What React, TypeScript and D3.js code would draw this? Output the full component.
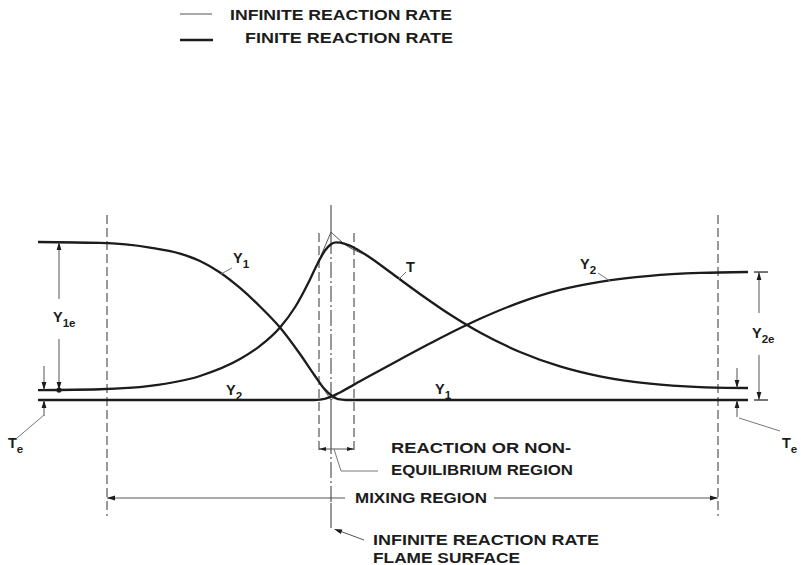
import React from "react";
import * as d3 from "d3";

// Position across the mixing layer (flame surface at 0) and normalised values
const xExtent: [number, number] = [-29.3, 41.7];
const mixingRegion: [number, number] = [-22.4, 38.7];
const reactionRegion: [number, number] = [-1.2, 2.3];
const flameSurface = 0;
const Y1e = 1.0;
const Y2e = 0.81;
const TeLeft = 0.063;
const TeRight = 0.076;

type Pt = [number, number];

// Finite reaction rate profiles
const y1Finite: Pt[] = [
  [-29.3, 1.0], [-23.1, 0.994], [-18.1, 0.965], [-15.1, 0.927], [-13.1, 0.88],
  [-11.1, 0.807], [-9.1, 0.709], [-7.1, 0.592], [-5.1, 0.459], [-3.1, 0.291],
  [-1.6, 0.152], [-0.6, 0.066], [0.1, 0.025], [0.7, 0.005], [1.5, 0], [41.7, 0],
];
const tFinite: Pt[] = [
  [-29.3, 0.063], [-23.1, 0.068], [-18.1, 0.089], [-13.1, 0.152], [-9.1, 0.259],
  [-7.1, 0.342], [-5.1, 0.459], [-3.6, 0.587], [-2.1, 0.763], [-1.3, 0.869],
  [-0.6, 0.946], [-0.1, 0.981], [0.5, 0.997], [1.4, 0.988], [2.4, 0.961],
  [3.9, 0.902], [5.9, 0.81], [8.9, 0.671], [11.9, 0.541], [14.9, 0.427],
  [18.9, 0.304], [22.9, 0.213], [26.9, 0.15], [31.9, 0.103], [36.9, 0.082], [41.7, 0.076],
];
const y2Finite: Pt[] = [
  [-29.3, 0], [-1.7, 0], [-1.1, 0.002], [-0.1, 0.018], [0.9, 0.048], [2.9, 0.118],
  [6.9, 0.257], [10.9, 0.391], [14.9, 0.514], [18.9, 0.618], [22.9, 0.697],
  [26.9, 0.748], [31.9, 0.786], [36.9, 0.804], [41.7, 0.81],
];

// Infinite reaction rate profiles: one branch each side of the flame surface
const y1InfiniteLeft: Pt[] = [
  [-29.3, 1.0], [-23.1, 0.994], [-18.1, 0.965], [-15.1, 0.927], [-13.1, 0.88],
  [-11.1, 0.807], [-9.1, 0.709], [-7.1, 0.592], [-5.1, 0.459], [-3.1, 0.291],
  [-2.1, 0.198], [0, 0],
];
const y2InfiniteRight: Pt[] = [
  [0, 0], [1.2, 0.063], [2.9, 0.118], [6.9, 0.257], [10.9, 0.391], [14.9, 0.514],
  [18.9, 0.618], [22.9, 0.697], [26.9, 0.748], [31.9, 0.786], [36.9, 0.804], [41.7, 0.81],
];
const tInfiniteLeft: Pt[] = [
  [-29.3, 0.063], [-23.1, 0.068], [-18.1, 0.089], [-13.1, 0.152], [-9.1, 0.259],
  [-7.1, 0.342], [-5.1, 0.459], [-3.6, 0.587], [-2.1, 0.763], [0, 1.063],
];
const tInfiniteRight: Pt[] = [
  [0, 1.063], [1.6, 0.975], [3.9, 0.902], [5.9, 0.81], [8.9, 0.671], [11.9, 0.541],
  [14.9, 0.427], [18.9, 0.304], [22.9, 0.213], [26.9, 0.15], [31.9, 0.103],
  [36.9, 0.082], [41.7, 0.076],
];

const legendLabels = ["INFINITE REACTION RATE", "FINITE REACTION RATE"];
const reactionLabel = ["REACTION OR NON-", "EQUILIBRIUM REGION"];
const mixingLabel = "MIXING REGION";
const flameLabel = ["INFINITE REACTION RATE", "FLAME SURFACE"];

const W = 801;
const H = 565;
const INK = "#1c1c1c";
const THIN = "#555";
const FONT = "'Liberation Sans', 'DejaVu Sans', Arial, sans-serif";

const x = d3.scaleLinear().domain(xExtent).range([38, 748]);
const y = d3.scaleLinear().domain([0, 1]).range([400, 242]);
const line = d3
  .line<Pt>()
  .x((d) => x(d[0]))
  .y((d) => y(d[1]))
  .curve(d3.curveMonotoneX);

function arrowHead(tx: number, ty: number, dx: number, dy: number, len = 8, half = 2.4) {
  const bx = tx - dx * len;
  const by = ty - dy * len;
  const px = -dy * half;
  const py = dx * half;
  return `M${tx},${ty}L${bx + px},${by + py}L${bx - px},${by - py}Z`;
}

function Label({ x: lx, y: ly, main, sub, size = 14.5 }: { x: number; y: number; main: string; sub?: string; size?: number }) {
  return (
    <text x={lx} y={ly} fontFamily={FONT} fontWeight="bold" fontSize={size} fill={INK}>
      {main}
      {sub ? (
        <tspan fontSize={size * 0.8} dy={size * 0.35}>
          {sub}
        </tspan>
      ) : null}
    </text>
  );
}

export default function App() {
  const fx = x(flameSurface);
  const xl = x(mixingRegion[0]);
  const xr = x(mixingRegion[1]);
  const rl = x(reactionRegion[0]);
  const rr = x(reactionRegion[1]);
  const yTop1 = y(Y1e);
  const yTop2 = y(Y2e);
  const yTeL = y(TeLeft);
  const yTeR = y(TeRight);
  const y0 = y(0);

  const dimX1 = 59;
  const dimX2 = 759;
  const teX1 = 44;
  const teX2 = 737;
  const mixY = 498;
  const reactY = 449;

  return (
    <svg width={W} height={H} style={{ position: "absolute", left: 0, top: 0, background: "#fff" }}>
      <rect width={W} height={H} fill="#fff" />

      {/* legend */}
      <line x1={180} x2={212} y1={14} y2={14} stroke={THIN} strokeWidth={1} />
      <text x={230} y={19.5} fontFamily={FONT} fontWeight="bold" fontSize={15} fill={INK} textLength={222} lengthAdjust="spacingAndGlyphs">
        {legendLabels[0]}
      </text>
      <line x1={180} x2={213} y1={40} y2={40} stroke={INK} strokeWidth={2.4} />
      <text x={245} y={43} fontFamily={FONT} fontWeight="bold" fontSize={15} fill={INK} textLength={208} lengthAdjust="spacingAndGlyphs">
        {legendLabels[1]}
      </text>

      {/* mixing region boundaries */}
      {[xl, xr].map((xv, i) => (
        <line key={"m" + i} x1={xv} x2={xv} y1={215} y2={516} stroke="#333" strokeWidth={1} strokeDasharray="9 4" />
      ))}
      {/* reaction region boundaries */}
      {[rl, rr].map((xv, i) => (
        <line key={"r" + i} x1={xv} x2={xv} y1={233} y2={452} stroke="#333" strokeWidth={1} strokeDasharray="9 4" />
      ))}
      {/* flame surface */}
      <line x1={fx} x2={fx} y1={205} y2={238} stroke="#333" strokeWidth={1} />
      <line x1={fx} x2={fx} y1={238} y2={400} stroke="#333" strokeWidth={1} strokeDasharray="16 3 2 3" />
      <line x1={fx} x2={fx} y1={400} y2={438} stroke="#333" strokeWidth={1} />
      <line x1={fx} x2={fx} y1={438} y2={503} stroke="#333" strokeWidth={1} strokeDasharray="16 3 2 3" />
      <line x1={fx} x2={fx} y1={503} y2={528} stroke="#333" strokeWidth={1} />

      {/* infinite reaction rate curves */}
      {[y1InfiniteLeft, y2InfiniteRight, tInfiniteLeft, tInfiniteRight].map((d, i) => (
        <path key={"inf" + i} d={line(d) || ""} fill="none" stroke={THIN} strokeWidth={1} />
      ))}

      {/* finite reaction rate curves */}
      {[y1Finite, y2Finite, tFinite].map((d, i) => (
        <path key={"fin" + i} d={line(d) || ""} fill="none" stroke={INK} strokeWidth={2.3} strokeLinejoin="round" />
      ))}

      {/* Y1e dimension */}
      <line x1={dimX1} x2={dimX1} y1={yTop1} y2={299} stroke={THIN} strokeWidth={1} />
      <line x1={dimX1} x2={dimX1} y1={339} y2={yTeL} stroke={THIN} strokeWidth={1} />
      <path d={arrowHead(dimX1, yTop1, 0, -1)} fill={INK} />
      <path d={arrowHead(dimX1, yTeL, 0, 1)} fill={INK} />
      <circle cx={dimX1} cy={yTeL} r={2.6} fill={INK} />
      <Label x={53} y={322} main="Y" sub="1e" />

      {/* left Te arrows */}
      <line x1={teX1} x2={teX1} y1={366} y2={yTeL} stroke={THIN} strokeWidth={1} />
      <path d={arrowHead(teX1, yTeL, 0, 1)} fill={INK} />
      <line x1={teX1} x2={teX1} y1={416} y2={y0} stroke={THIN} strokeWidth={1} />
      <path d={arrowHead(teX1, y0, 0, -1)} fill={INK} />
      <line x1={teX1} x2={17} y1={415} y2={438} stroke="#777" strokeWidth={1} />
      <Label x={8} y={448} main="T" sub="e" />

      {/* right Te arrows */}
      <line x1={teX2} x2={teX2} y1={368} y2={yTeR} stroke={THIN} strokeWidth={1} />
      <path d={arrowHead(teX2, yTeR, 0, 1)} fill={INK} />
      <line x1={teX2} x2={teX2} y1={417} y2={y0} stroke={THIN} strokeWidth={1} />
      <path d={arrowHead(teX2, y0, 0, -1)} fill={INK} />
      <line x1={teX2 + 2} x2={780} y1={418} y2={431} stroke="#777" strokeWidth={1} />
      <Label x={782} y={448} main="T" sub="e" />

      {/* Y2e dimension */}
      <line x1={754} x2={768} y1={yTop2} y2={yTop2} stroke={INK} strokeWidth={1.2} />
      <line x1={754} x2={768} y1={y0} y2={y0} stroke={INK} strokeWidth={1.2} />
      <line x1={dimX2} x2={dimX2} y1={yTop2} y2={313} stroke={THIN} strokeWidth={1} />
      <line x1={dimX2} x2={dimX2} y1={355} y2={y0} stroke={THIN} strokeWidth={1} />
      <path d={arrowHead(dimX2, yTop2, 0, -1)} fill={INK} />
      <path d={arrowHead(dimX2, y0, 0, 1)} fill={INK} />
      <Label x={752} y={338} main="Y" sub="2e" />

      {/* curve labels */}
      <line x1={232} x2={221} y1={268} y2={274} stroke="#777" strokeWidth={1} />
      <Label x={233} y={263} main="Y" sub="1" />
      <line x1={398} x2={406} y1={280} y2={272} stroke="#777" strokeWidth={1} />
      <Label x={406} y={272} main="T" />
      <line x1={598} x2={610} y1={273} y2={281} stroke="#777" strokeWidth={1} />
      <Label x={580} y={269} main="Y" sub="2" />
      <Label x={226} y={395} main="Y" sub="2" />
      <Label x={435} y={394} main="Y" sub="1" />

      {/* reaction region dimension */}
      <line x1={rl} x2={rr} y1={reactY} y2={reactY} stroke={THIN} strokeWidth={1} />
      <path d={arrowHead(rl, reactY, -1, 0, 7, 2)} fill={INK} />
      <path d={arrowHead(rr, reactY, 1, 0, 7, 2)} fill={INK} />
      <polyline points={`${fx + 3},${reactY} ${fx + 10},471 378,471`} fill="none" stroke="#777" strokeWidth={1} />
      <text x={391} y={453} fontFamily={FONT} fontWeight="bold" fontSize={14.5} fill={INK} textLength={180} lengthAdjust="spacingAndGlyphs">
        {reactionLabel[0]}
      </text>
      <text x={391} y={475} fontFamily={FONT} fontWeight="bold" fontSize={14.5} fill={INK} textLength={182} lengthAdjust="spacingAndGlyphs">
        {reactionLabel[1]}
      </text>

      {/* mixing region dimension */}
      <line x1={xl} x2={345} y1={mixY} y2={mixY} stroke={THIN} strokeWidth={1} />
      <line x1={494} x2={xr} y1={mixY} y2={mixY} stroke={THIN} strokeWidth={1} />
      <path d={arrowHead(xl, mixY, -1, 0)} fill={INK} />
      <path d={arrowHead(xr, mixY, 1, 0)} fill={INK} />
      <text x={355} y={503} fontFamily={FONT} fontWeight="bold" fontSize={14.5} fill={INK} textLength={132} lengthAdjust="spacingAndGlyphs">
        {mixingLabel}
      </text>

      {/* flame surface label */}
      <line x1={364} x2={fx + 6} y1={540} y2={530} stroke="#555" strokeWidth={1} />
      <path d={arrowHead(fx + 3, 529, -0.94, -0.34, 8, 2.4)} fill={INK} />
      <text x={373} y={545} fontFamily={FONT} fontWeight="bold" fontSize={14.5} fill={INK} textLength={226} lengthAdjust="spacingAndGlyphs">
        {flameLabel[0]}
      </text>
      <text x={373} y={563} fontFamily={FONT} fontWeight="bold" fontSize={14.5} fill={INK} textLength={147} lengthAdjust="spacingAndGlyphs">
        {flameLabel[1]}
      </text>
    </svg>
  );
}
